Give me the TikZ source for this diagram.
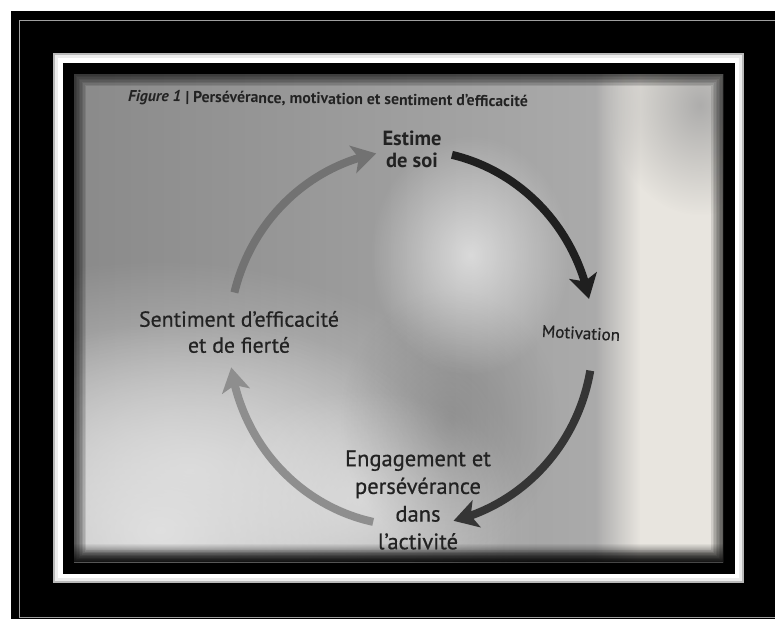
\documentclass[tikz,border=0pt]{standalone}
\usepackage{fontspec}
\setmainfont{PT Sans}
\newfontfamily\medfont[FakeBold=0.6]{PT Sans}
\usetikzlibrary{arrows.meta,bending,fadings,calc}
\tikzfading[name=blobfade, inner color=transparent!0, outer color=transparent!100]
\tikzfading[name=leftsoft, left color=transparent!100, right color=transparent!0]
\tikzfading[name=fadeup, top color=transparent!100, bottom color=transparent!0]
\definecolor{ink}{HTML}{222222}
\definecolor{arrowdark}{HTML}{1F1F1F}
\definecolor{arrowmid}{HTML}{727272}
\definecolor{arrowlight}{HTML}{8E8E8E}
\definecolor{photoL}{HTML}{8A8A8A}
\definecolor{photoM}{HTML}{A4A4A4}
\definecolor{photoR}{HTML}{B2B2B2}
\definecolor{bandc}{HTML}{E8E5DF}
\definecolor{lightc}{HTML}{E0E0E0}
\tikzset{
  lbl/.style={text=ink, align=center, inner sep=0pt},
  cyclearrow/.style={line width=8pt, -{Stealth[length=24pt,width=28pt,inset=6pt]}},
}
\begin{document}
\begin{tikzpicture}[x=1pt,y=-1pt]
\useasboundingbox (0,0) rectangle (775,619);
% outer background
\fill[white] (0,0) rectangle (775,619);
\fill[black] (11,11) rectangle (775,619);
\draw[gray!75, line width=1pt] (775,20) -- (19,20) -- (19,617) -- (775,617);
% white frame
\fill[gray!55] (53,53) rectangle (744,583);
\fill[gray!15] (55,55) rectangle (742,581);
\fill[white] (58,58) rectangle (739,578);
\fill[black] (63,63) rectangle (735,574);
% photo background
\begin{scope}
\clip (74,74) rectangle (723,562);
\shade[left color=photoL, middle color=photoM, right color=photoR] (74,74) rectangle (723,562);
% light bottom-left region
\fill[lightc, opacity=1, path fading=blobfade] (160,530) ellipse [x radius=380, y radius=270];
\fill[lightc, opacity=0.8, path fading=blobfade] (190,470) ellipse [x radius=260, y radius=150];
\fill[lightc, opacity=0.7, path fading=blobfade] (360,500) ellipse [x radius=160, y radius=110];
% dark wedge
\fill[gray!70!black, opacity=0.3, path fading=blobfade] (450,420) ellipse [x radius=110, y radius=130];
% central bright spot
\fill[white, opacity=0.6, path fading=blobfade] (470,255) ellipse [x radius=100, y radius=120];
% bright right band
\fill[bandc, path fading=leftsoft] (595,74) rectangle (640,562);
\fill[bandc] (640,74) rectangle (723,562);
\fill[gray!75, opacity=0.8, path fading=blobfade] (700,105) ellipse [x radius=90, y radius=110];
% vignette
\foreach \w in {3,6,...,24} {\draw[black, opacity=0.1, line width=\w pt] (74,74) rectangle (723,562);}
\fill[black, opacity=0.8, path fading=fadeup] (74,543) rectangle (723,562);
\end{scope}
% title
\node[lbl, rotate=-0.8, font=\fontsize{15.8}{17}\selectfont] (title) at (328,100)
  {{\itshape\bfseries Figure 1} {\bfseries | Persévérance, motivation et sentiment d’efficacité}};
% labels
\node[lbl, font=\bfseries\fontsize{20.5}{22}\selectfont] (estime) at (412,149) {Estime\\de soi};
\node[lbl, rotate=-3, font=\medfont\fontsize{17}{20}\selectfont] (motiv) at (581,333) {Motivation};
\node[lbl, font=\medfont\fontsize{21.8}{26}\selectfont] (sent) at (239,332) {Sentiment d’efficacité\\et de fierté};
\node[lbl, font=\medfont\fontsize{22.5}{27.7}\selectfont] (engag) at (418,500) {Engagement et\\persévérance\\dans\\l’activité};
% cycle arrows
\coordinate (C) at (411,338);
\coordinate (s1) at ($(C)+(-166:182 and 188)$);
\coordinate (s2) at ($(C)+(-77:182 and 188)$);
\coordinate (s3) at ($(C)+(10:182 and 188)$);
\coordinate (s4) at ($(C)+(102:182 and 188)$);
\draw[cyclearrow, arrowmid] (s1) arc[start angle=-166, end angle=-101, x radius=182, y radius=188];
\draw[cyclearrow, arrowdark] (s2) arc[start angle=-77, end angle=-12, x radius=182, y radius=188];
\draw[cyclearrow, arrowdark!90!white] (s3) arc[start angle=10, end angle=76.5, x radius=182, y radius=188];
\draw[cyclearrow, arrowlight] (s4) arc[start angle=102, end angle=171, x radius=182, y radius=188];
\end{tikzpicture}
\end{document}
